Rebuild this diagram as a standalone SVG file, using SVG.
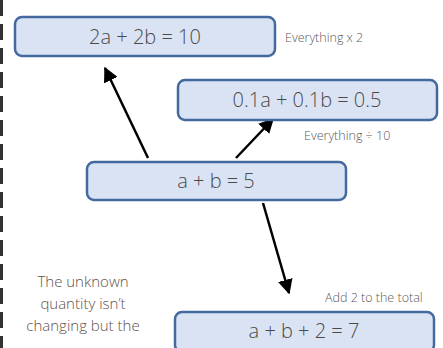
<svg xmlns="http://www.w3.org/2000/svg" width="443" height="348" viewBox="0 0 443 348">
<defs>
<style>
.box{fill:#dae3f3;stroke:#44699f;stroke-width:2.5}
.eq{font-family:"Open Sans","Liberation Sans",sans-serif;font-weight:300;font-size:20px;fill:#4a4a4a;text-anchor:middle}
.note{font-family:"Open Sans","Liberation Sans",sans-serif;font-weight:300;font-size:12.5px;fill:#5a5a5a}
.side{font-family:"Open Sans","Liberation Sans",sans-serif;font-weight:300;font-size:15px;fill:#5f524a;text-anchor:middle}
.conn{stroke:#000;stroke-width:2.5;fill:none;marker-end:url(#ah)}
</style>
<marker id="ah" viewBox="0 0 10 10" refX="9" refY="5" markerWidth="6" markerHeight="6" orient="auto" markerUnits="strokeWidth">
<path d="M0,0 L10,5 L0,10 z" fill="#000"/>
</marker>
</defs>
<rect width="443" height="348" fill="#fff"/>
<line x1="1.5" y1="0" x2="1.5" y2="348" stroke="#333" stroke-width="3" stroke-dasharray="16,8"/>
<g id="connectors">
<line class="conn" x1="148" y1="158" x2="105" y2="68"/>
<line class="conn" x1="236" y1="158" x2="273" y2="119"/>
<line class="conn" x1="263" y1="203" x2="289" y2="293"/>
</g>
<g id="node-2a2b">
<rect class="box" x="15" y="17" width="260" height="39" rx="7"/>
<text class="eq" x="145" y="44">2a + 2b = 10</text>
</g>
<g id="node-01">
<rect class="box" x="178" y="80" width="259" height="40" rx="7"/>
<text class="eq" x="307" y="107">0.1a + 0.1b = 0.5</text>
</g>
<g id="node-ab5">
<rect class="box" x="87" y="162" width="259" height="38" rx="7"/>
<text class="eq" x="216" y="188">a + b = 5</text>
</g>
<g id="node-ab27">
<rect class="box" x="175" y="312" width="259" height="40" rx="7"/>
<text class="eq" x="304" y="338">a + b + 2 = 7</text>
</g>
<text class="note" x="285" y="42">Everything x 2</text>
<text class="note" x="304" y="140">Everything ÷ 10</text>
<text class="note" x="325" y="302">Add 2 to the total</text>
<text class="side" x="83" y="287">The unknown</text>
<text class="side" x="83" y="309">quantity isn’t</text>
<text class="side" x="83" y="331">changing but the</text>
</svg>
